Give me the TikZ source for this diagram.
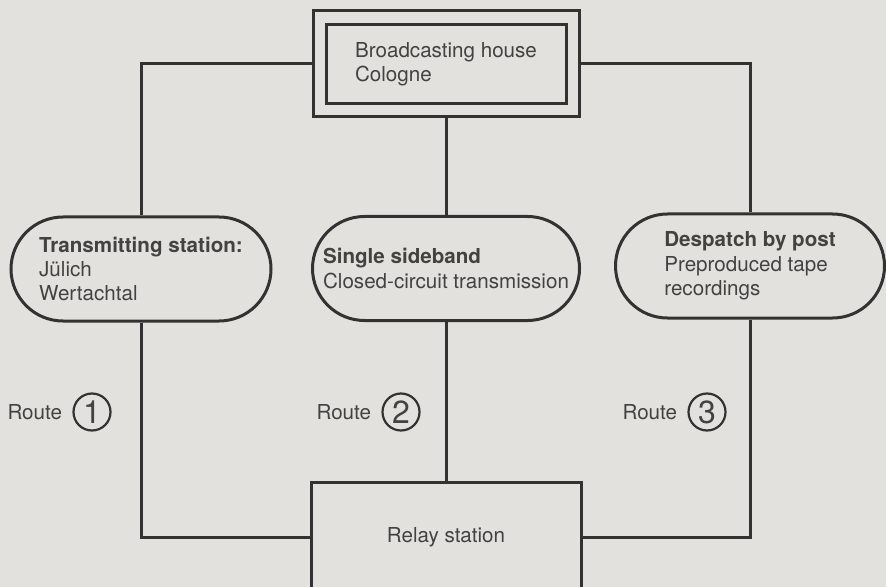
\documentclass[tikz,border=0pt]{standalone}
\usepackage{fontspec}
\setmainfont{TeX Gyre Heros}
\usetikzlibrary{positioning}
\definecolor{paper}{RGB}{226,225,221}
\definecolor{ink}{RGB}{50,50,50}
\definecolor{print}{RGB}{66,66,66}
\tikzset{
  link/.style={draw=ink, line width=1.5pt},
}

\begin{document}
\begin{tikzpicture}[x=0.5pt, y=-0.5pt,
  every node/.style={text=print, font=\fontsize{10.3}{12.2}\selectfont},
  frame/.style={draw=ink, line width=1.5pt, minimum width=133pt, minimum height=53pt},
  housebox/.style={draw=ink, line width=1.5pt, minimum width=120pt, minimum height=39.5pt, align=left},
  pill/.style={draw=ink, line width=1.5pt, rounded corners=26pt, minimum height=52pt, align=left},
  relaybox/.style={draw=ink, line width=1.5pt, minimum width=135pt, minimum height=55pt},
  num/.style={circle, draw=ink, line width=1.1pt, minimum size=18.5pt, inner sep=0pt, font=\fontsize{16}{16}\selectfont},
  routetxt/.style={inner sep=0pt}
]
  \useasboundingbox (0,0) rectangle (886,587);
  \clip (0,0) rectangle (886,587);
  \fill[paper] (0,0) rectangle (886,587);

  % broadcasting house, double frame
  \node[frame] (frame) at (446,64) {};
  \node[housebox] (house) at (frame.center) {Broadcasting house\\Cologne};

  % the three routes
  \node[pill, minimum width=130pt] (tx) at (141,269) {\textbf{Transmitting station:}\\Jülich\\Wertachtal};
  \node[pill, minimum width=133.5pt] (ssb) at (446,268.5) {\textbf{Single sideband}\\Closed-circuit transmission};
  \node[pill, minimum width=134.5pt] (post) at (750,266) {\textbf{Despatch by post}\\Preproduced tape\\recordings};

  \node[relaybox] (relay) at (446,537) {Relay station};

  \node[num] (r1) at (92,412) {1};
  \node[routetxt, left=5pt of r1] (route1) {Route};
  \node[num] (r2) at (401,412) {2};
  \node[routetxt, left=5pt of r2] (route2) {Route};
  \node[num] (r3) at (707,412) {3};
  \node[routetxt, left=5pt of r3] (route3) {Route};

  \draw[link] (frame.west) -| (tx.north);
  \draw[link] (frame.south) -- (ssb.north);
  \draw[link] (frame.east) -| (post.north);
  \draw[link] (tx.south) |- (relay.west);
  \draw[link] (ssb.south) -- (relay.north);
  \draw[link] (post.south) |- (relay.east);
\end{tikzpicture}
\end{document}
